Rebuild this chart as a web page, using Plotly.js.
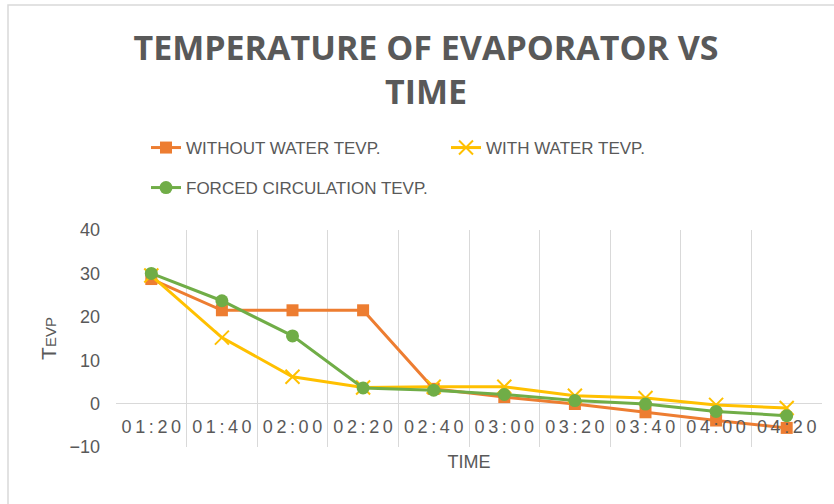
<!DOCTYPE html>
<html>
<head>
<meta charset="utf-8">
<script src="https://cdn.plot.ly/plotly-3.0.1.min.js"></script>
<style>
html,body{margin:0;padding:0;background:#fff;}
#chart{width:834px;height:504px;}
</style>
</head>
<body>
<div id="chart"></div>
<script>
// ---- data ----
const times = ["01:20","01:40","02:00","02:20","02:40","03:00","03:20","03:40","04:00","04:20"];
const withoutWater = [28.7, 21.5, 21.5, 21.5, 3.4, 1.5, -0.1, -2.0, -3.9, -5.6];
const withWater = [29.5, 15.2, 6.2, 3.7, 3.9, 3.9, 1.8, 1.3, -0.3, -1.0];
const forcedCirc = [30.0, 23.7, 15.6, 3.6, 3.1, 2.1, 0.7, -0.1, -1.8, -2.8];
const seriesNames = ["WITHOUT WATER TEVP.", "WITH WATER TEVP.", "FORCED CIRCULATION TEVP."];
const yTicks = [-10, 0, 10, 20, 30, 40];

const textCol = '#595959';
const gridCol = '#d9d9d9';

const traces = [
  {x: times, y: withoutWater, name: seriesNames[0], type: 'scatter', mode: 'lines+markers',
   line: {color: '#ED7D31', width: 3}, marker: {symbol: 'square', size: 12, color: '#ED7D31'}, legend: 'legend'},
  {x: times, y: withWater, name: seriesNames[1], type: 'scatter', mode: 'lines+markers',
   line: {color: '#FFC000', width: 3}, marker: {symbol: 'x-thin', size: 14, color: '#FFC000', line: {color: '#FFC000', width: 2}}, legend: 'legend'},
  {x: times, y: forcedCirc, name: seriesNames[2], type: 'scatter', mode: 'lines+markers',
   line: {color: '#70AD47', width: 3}, marker: {symbol: 'circle', size: 13, color: '#70AD47'}, legend: 'legend2'}
];

const legendFont = {family: 'Liberation Sans, Arial, sans-serif', size: 17, color: textCol};

const layout = {
  width: 834, height: 504,
  margin: {l: 116, r: 12, t: 230, b: 57},
  paper_bgcolor: '#fff', plot_bgcolor: '#fff',
  showlegend: true,
  title: {
    text: 'TEMPERATURE OF EVAPORATOR VS<br>TIME',
    font: {family: 'Open Sans, sans-serif', size: 34, color: textCol, weight: 'bold'},
    xref: 'container', x: 426/834, xanchor: 'center',
    yref: 'container', y: 1 - 60/504, yanchor: 'top'
  },
  xaxis: {
    type: 'category', range: [-0.5, 9.5],
    tickmode: 'array', tickvals: times, ticktext: times.map(t => t.split('').join('\u2009')),
    tickfont: {family: 'Liberation Sans, Arial, sans-serif', size: 18, color: textCol},
    showgrid: true, gridcolor: gridCol, gridwidth: 1, tickson: 'boundaries',
    ticks: '', showline: false, zeroline: false,
    anchor: 'free', position: 0.2,
    ticklabelstandoff: 10,
    title: {text: 'TIME', font: {family: 'Liberation Sans, Arial, sans-serif', size: 18, color: textCol}, standoff: 19},
    fixedrange: true
  },
  yaxis: {
    range: [-10, 40], tickmode: 'array', tickvals: yTicks,
    tickfont: {family: 'Liberation Sans, Arial, sans-serif', size: 18, color: textCol},
    showgrid: false, zeroline: true, zerolinecolor: gridCol, zerolinewidth: 1,
    showline: false, ticks: '', ticklabelstandoff: 15,
    title: {text: 'T<span style="font-size:15px">EVP</span>', font: {family: 'Liberation Sans, Arial, sans-serif', size: 21, color: textCol}, standoff: 7},
    fixedrange: true
  },
  legend: {
    orientation: 'h', xref: 'container', yref: 'container',
    x: 146/834, y: 1 - 130/504, xanchor: 'left', yanchor: 'top',
    entrywidth: 255, font: legendFont, bgcolor: 'rgba(0,0,0,0)'
  },
  legend2: {
    orientation: 'h', xref: 'container', yref: 'container',
    x: 146/834, y: 1 - 170/504, xanchor: 'left', yanchor: 'top',
    font: legendFont, bgcolor: 'rgba(0,0,0,0)'
  },
  shapes: [
    {type: 'rect', xref: 'paper', yref: 'paper', x0: (8-116)/706, x1: 1.1, y0: -0.5, y1: 1 + 225/217,
     line: {color: gridCol, width: 1.5}, fillcolor: 'rgba(0,0,0,0)', layer: 'below'}
  ]
};

Plotly.newPlot('chart', traces, layout, {displayModeBar: false, staticPlot: true});
</script>
</body>
</html>
